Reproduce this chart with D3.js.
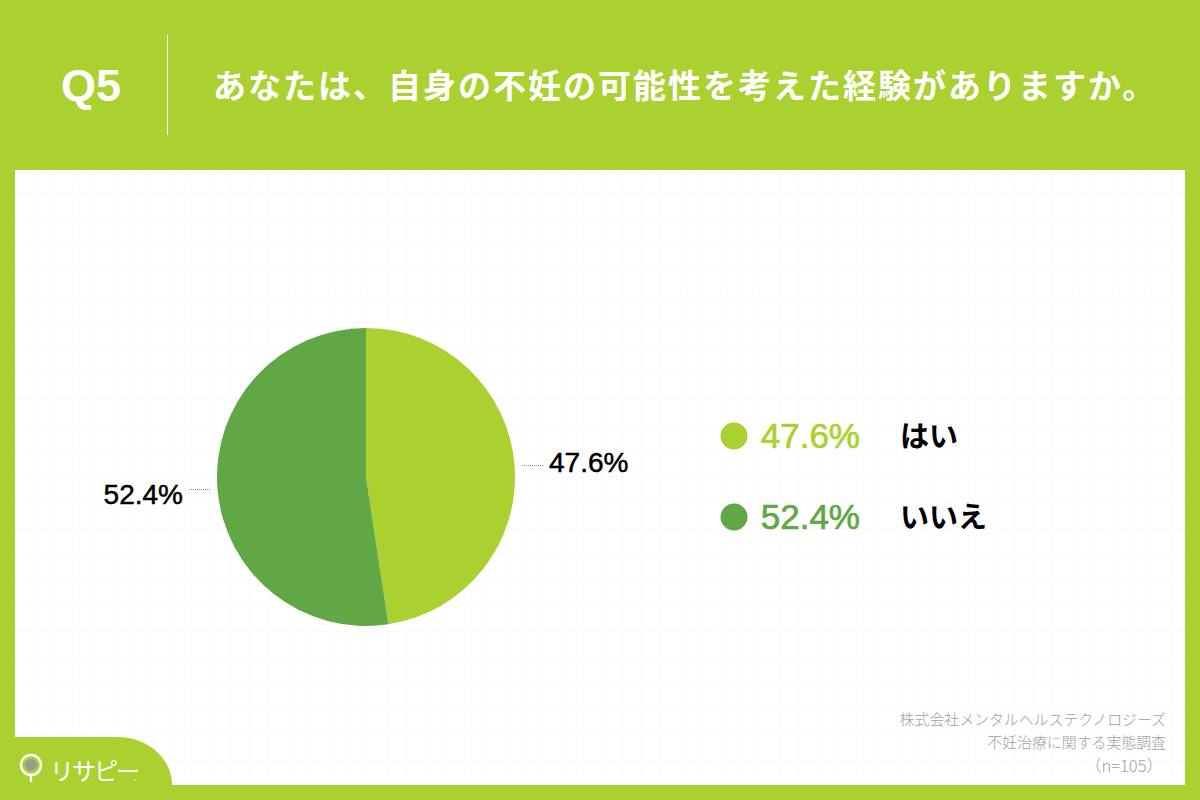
<!DOCTYPE html>
<html>
<head>
<meta charset="utf-8">
<script src="https://cdn.jsdelivr.net/npm/d3@7"></script>
<style>
  html, body { margin: 0; padding: 0; background: #fff; }
  svg { display: block; }
  text { font-family: "Liberation Sans", "Noto Sans CJK JP", sans-serif; }
  .jp { font-family: "Noto Sans CJK JP", sans-serif; }
</style>
</head>
<body>
<svg id="chart" width="1200" height="800"></svg>
<script>
const categories = ['はい', 'いいえ'];
const values = [47.6, 52.4];
const colors = ['#abd130', '#60a846'];
const question = 'Q5';
const title = 'あなたは、自身の不妊の可能性を考えた経験がありますか。';
const notes = ['株式会社メンタルヘルステクノロジーズ', '不妊治療に関する実態調査', '（n=105）'];

const svg = d3.select('#chart');
const bg = '#abd130';

// frame
svg.append('rect').attr('width', 1200).attr('height', 800).attr('fill', bg);
svg.append('rect').attr('x', 15).attr('y', 170).attr('width', 1170).attr('height', 615).attr('fill', '#fff');

// faint grid on the panel
const grid = svg.append('g').attr('stroke', '#fafafa').attr('stroke-width', 1);
d3.range(34, 1185, 19.6).forEach(x => {
  grid.append('line').attr('x1', x).attr('x2', x).attr('y1', 170).attr('y2', 785);
});
d3.range(193, 785, 25.8).forEach(y => {
  grid.append('line').attr('x1', 15).attr('x2', 1185).attr('y1', y).attr('y2', y);
});

// header
svg.append('text').attr('x', 91).attr('y', 101).attr('text-anchor', 'middle')
  .attr('font-size', 45).attr('font-weight', 700).attr('fill', '#fff').text(question);
svg.append('line').attr('x1', 167.5).attr('x2', 167.5).attr('y1', 35).attr('y2', 135)
  .attr('stroke', '#fff').attr('stroke-width', 1);
svg.append('text').attr('class', 'jp').attr('x', 213).attr('y', 98)
  .attr('font-size', 33).attr('font-weight', 700).attr('letter-spacing', 2)
  .attr('fill', '#fff').text(title);

// pie
const cx = 366, cy = 477, r = 149;
const pie = d3.pie().sort(null);
const arc = d3.arc().innerRadius(0).outerRadius(r);
const arcs = pie(values);
const gPie = svg.append('g').attr('transform', `translate(${cx},${cy})`);
gPie.selectAll('path').data(arcs).join('path')
  .attr('d', arc)
  .attr('fill', (d, i) => colors[i]);

// leader lines + value labels, level with the slice mid angle
const lineIn = d3.arc().innerRadius(r + 7).outerRadius(r + 7);
const fmt = v => v.toFixed(1) + '%';
arcs.forEach((d, i) => {
  const right = i === 0;
  const y0 = Math.round(lineIn.centroid(d)[1]) + 0.5;
  gPie.append('line')
    .attr('x1', right ? r + 7 : -(r + 7)).attr('x2', right ? r + 28 : -(r + 28))
    .attr('y1', y0).attr('y2', y0)
    .attr('stroke', '#888').attr('stroke-width', 1).attr('stroke-dasharray', '1 1');
  gPie.append('text')
    .attr('x', right ? r + 34 : -(r + 34))
    .attr('y', y0 + (right ? 6 : 14))
    .attr('text-anchor', right ? 'start' : 'end')
    .attr('font-size', 28).attr('fill', '#000').attr('stroke', '#000').attr('stroke-width', 0.5)
    .text(fmt(values[i]));
});

// legend
const legendY = d3.scalePoint().domain(categories).range([436, 517]);
categories.forEach((c, i) => {
  const y = legendY(c);
  svg.append('circle').attr('cx', 734).attr('cy', y).attr('r', 13.5).attr('fill', colors[i]);
  svg.append('text').attr('x', 860).attr('y', y + 12).attr('text-anchor', 'end')
    .attr('font-size', 35).attr('fill', colors[i]).attr('stroke', colors[i]).attr('stroke-width', 0.7)
    .text(fmt(values[i]));
  svg.append('text').attr('class', 'jp').attr('x', 900).attr('y', y + 11)
    .attr('font-size', 29).attr('font-weight', 700).attr('fill', '#000').text(c);
});

// source notes
const noteY = [725, 748, 772];
const noteX = [1166, 1166, 1163];
const noteSize = [14.9, 14.9, 16.5];
notes.forEach((t, i) => {
  svg.append('text').attr('class', 'jp').attr('x', noteX[i]).attr('y', noteY[i])
    .attr('text-anchor', 'end').attr('font-size', noteSize[i]).attr('font-weight', 300)
    .attr('fill', '#a0a0a0').text(t);
});

// logo tab
svg.append('path')
  .attr('d', 'M0,737 H118 A54,48 0 0 1 172,785 V800 H0 Z')
  .attr('fill', bg);
const pin = svg.append('g');
pin.append('circle').attr('cx', 31).attr('cy', 765).attr('r', 10).attr('fill', 'none')
  .attr('stroke', '#fff').attr('stroke-width', 2.4);
pin.append('circle').attr('cx', 31).attr('cy', 765).attr('r', 6).attr('fill', '#9a9a9a');
pin.append('line').attr('x1', 31).attr('x2', 31).attr('y1', 775).attr('y2', 781)
  .attr('stroke', '#fff').attr('stroke-width', 2.4).attr('stroke-linecap', 'round');
svg.append('text').attr('class', 'jp').attr('x', 50).attr('y', 780)
  .attr('font-size', 24).attr('font-weight', 400).attr('fill', '#fff').attr('letter-spacing', -2).text('リサピー');
svg.append('circle').attr('cx', 135).attr('cy', 780).attr('r', 1).attr('fill', '#ddd');
</script>
</body>
</html>
